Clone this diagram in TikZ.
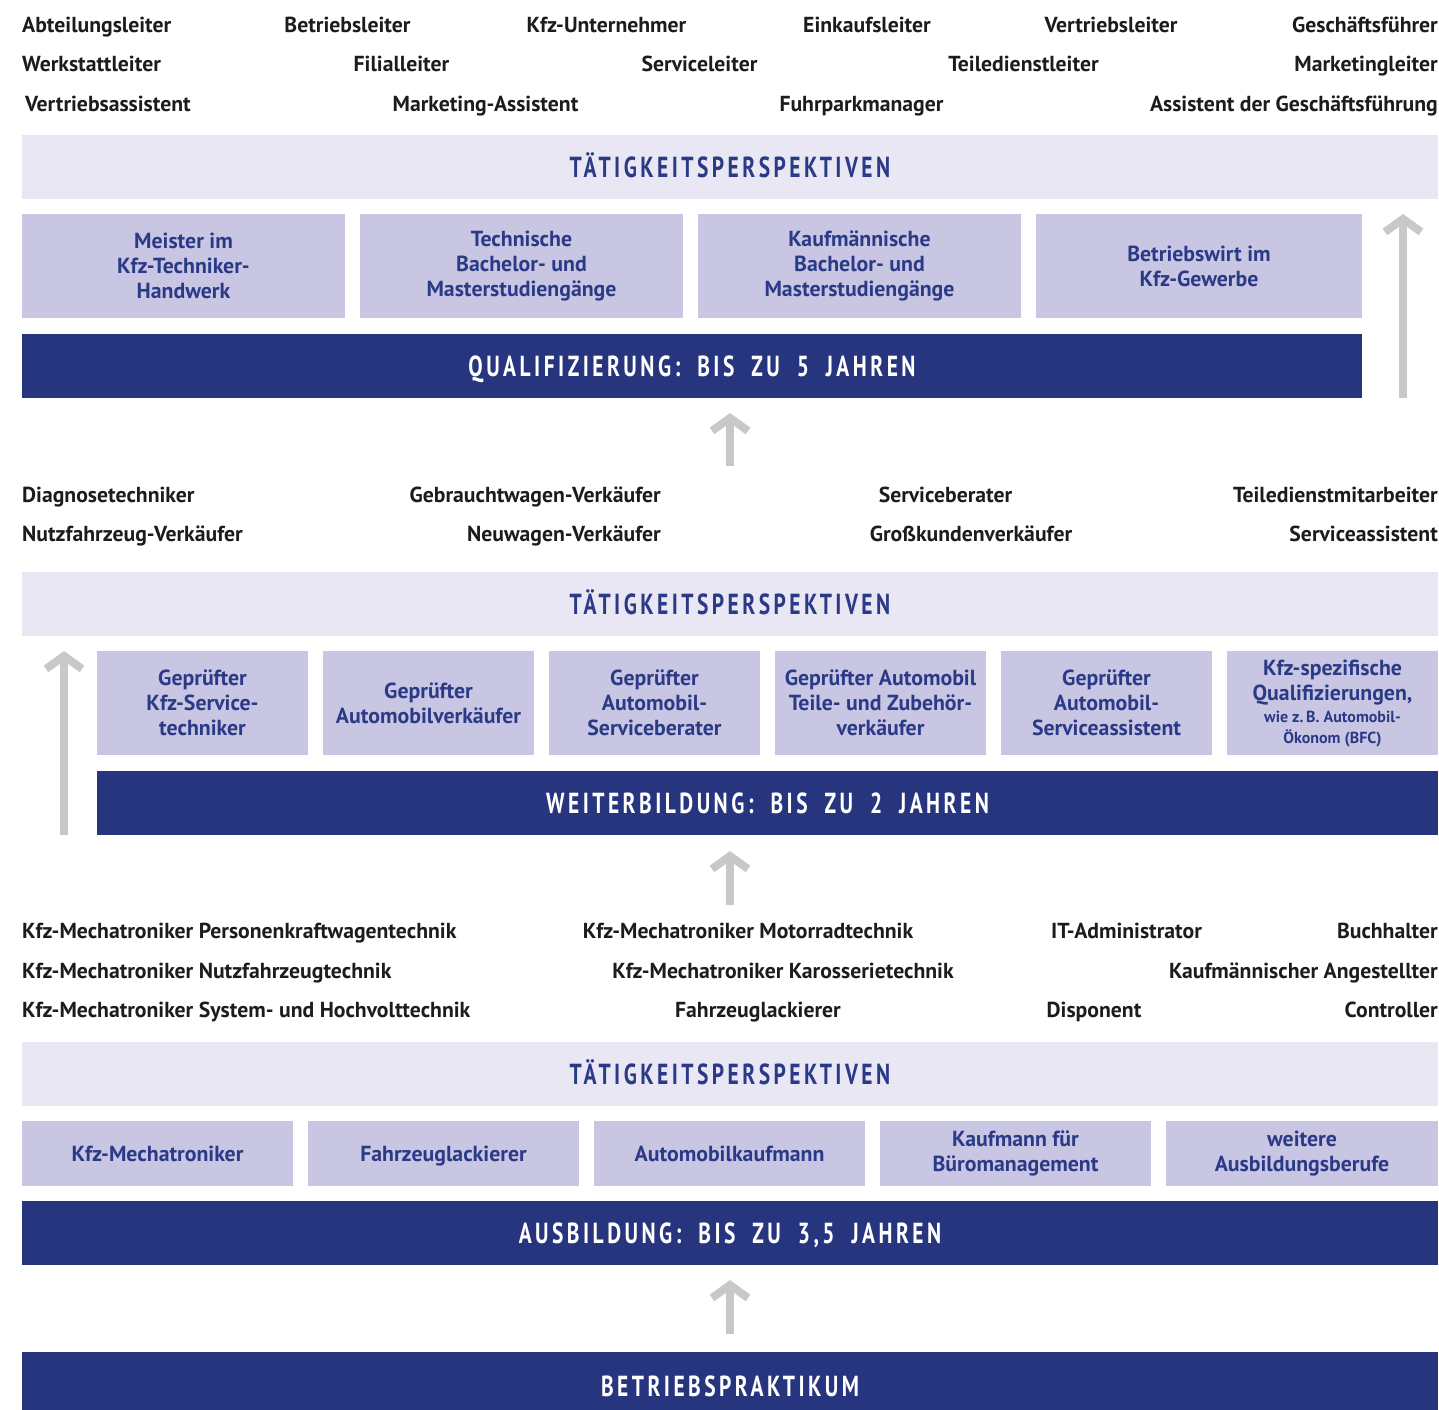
\documentclass[tikz,border=0pt]{standalone}
\usepackage{fontspec}
\setmainfont{PT Sans}
\newfontfamily\titlefont[FakeStretch=0.74,LetterSpace=12,WordSpace=1.9]{PT Sans}
\usetikzlibrary{arrows.meta}
\definecolor{navy}{RGB}{39,53,127}
\definecolor{lbox}{RGB}{200,198,226}
\definecolor{lband}{RGB}{232,231,243}
\definecolor{tnavy}{RGB}{43,58,135}
\definecolor{agray}{RGB}{200,200,200}
\definecolor{ltext}{RGB}{28,28,28}
\tikzset{
  lab/.style={inner sep=0pt, font=\fontsize{21.7}{25}\selectfont\bfseries, text=ltext},
  labw/.style={lab, anchor=base west},
  labe/.style={lab, anchor=base east},
  labc/.style={lab, anchor=base},
  band/.style={fill=lband, inner sep=0pt, minimum width=1416pt, minimum height=64pt, text height=21pt, text depth=0pt, text=tnavy, font=\titlefont\fontsize{29}{30}\selectfont\bfseries},
  bar/.style={fill=navy, inner sep=0pt, minimum height=64pt, text height=21pt, text depth=0pt, text=white, font=\titlefont\fontsize{29}{30}\selectfont\bfseries},
  qbox/.style={fill=lbox, inner sep=0pt, align=center, text=tnavy, font=\fontsize{21.8}{25}\selectfont\bfseries},
  qboxa/.style={qbox, minimum width=323pt, minimum height=104pt},
  qboxb/.style={qbox, minimum width=211pt, minimum height=104pt},
  qboxc/.style={qbox, minimum width=271pt, minimum height=65pt},
  single/.style={text height=16pt, text depth=0pt},
  uparrow/.style={draw=agray, line width=8pt, -{Straight Barb[length=13pt, width=36pt, line join=miter]}}
}
\begin{document}
\begin{tikzpicture}[x=1pt,y=-1pt]
\clip (0,0) rectangle (1439,1409);
\fill[white] (0,0) rectangle (1439,1409);

% ---- top labels
\node[labw] (t1) at (22,32) {Abteilungsleiter};
\node[labc] (t2) at (347.5,32) {Betriebsleiter};
\node[labc] (t3) at (606.5,32) {Kfz-Unternehmer};
\node[labc] (t4) at (867,32) {Einkaufsleiter};
\node[labc] (t5) at (1111,32) {Vertriebsleiter};
\node[labe] (t6) at (1438,32) {Geschäftsführer};
\node[labw] (t7) at (22,71) {Werkstattleiter};
\node[labc] (t8) at (401.5,71) {Filialleiter};
\node[labc] (t9) at (699.5,71) {Serviceleiter};
\node[labc] (t10) at (1023.5,71) {Teiledienstleiter};
\node[labe] (t11) at (1438,71) {Marketingleiter};
\node[labw] (t12) at (25,111) {Vertriebsassistent};
\node[labc] (t13) at (485.5,111) {Marketing-Assistent};
\node[labc] (t14) at (861.5,111) {Fuhrparkmanager};
\node[labe] (t15) at (1438,111) {Assistent der Geschäftsführung};

\node[band] (band1) at (730,167) {TÄTIGKEITSPERSPEKTIVEN};
\node[qboxa] (q1) at (183.5,266) {Meister im\\Kfz-Techniker-\\Handwerk};
\node[qboxa] (q2) at (521.5,266) {Technische\\Bachelor- und\\Masterstudiengänge};
\node[qboxa] (q3) at (859.5,266) {Kaufmännische\\Bachelor- und\\Masterstudiengänge};
\node[qboxa, minimum width=326pt] (q4) at (1199,266) {Betriebswirt im\\Kfz-Gewerbe};
\node[bar, minimum width=1340pt] (qual) at (692,366) {QUALIFIZIERUNG: BIS ZU 5 JAHREN};

\coordinate (r1) at (1403,398);
\coordinate (r2) at (1403,214);
\draw[uparrow] (r1) -- (r2);
\coordinate (m1a) at (730,466);
\coordinate (m1b) at (730,413);
\draw[uparrow] (m1a) -- (m1b);

% ---- middle labels
\node[labw] (s1) at (22,502) {Diagnosetechniker};
\node[labe] (s2) at (661,502) {Gebrauchtwagen-Verkäufer};
\node[labc] (s3) at (945.5,502) {Serviceberater};
\node[labe] (s4) at (1438,502) {Teiledienstmitarbeiter};
\node[labw] (s5) at (22,541) {Nutzfahrzeug-Verkäufer};
\node[labe] (s6) at (661,541) {Neuwagen-Verkäufer};
\node[labc] (s7) at (971,541) {Großkundenverkäufer};
\node[labe] (s8) at (1438,541) {Serviceassistent};

\node[band] (band2) at (730,604) {TÄTIGKEITSPERSPEKTIVEN};
\node[qboxb] (w1) at (202.5,703) {Geprüfter\\Kfz-Service-\\techniker};
\node[qboxb] (w2) at (428.5,703) {Geprüfter\\Automobilverkäufer};
\node[qboxb] (w3) at (654.5,703) {Geprüfter\\Automobil-\\Serviceberater};
\node[qboxb] (w4) at (880.5,703) {Geprüfter Automobil\\Teile- und Zubehör-\\verkäufer};
\node[qboxb] (w5) at (1106.5,703) {Geprüfter\\Automobil-\\Serviceassistent};
\node[qboxb] (w6) at (1332.5,703) {Kfz-spezifische\\Qualifizierungen,\\[-3pt]{\fontsize{16}{20}\selectfont wie z.\,B. Automobil-}\\[-4pt]{\fontsize{16}{20}\selectfont Ökonom (BFC)}};
\node[bar, minimum width=1341pt] (weiter) at (767.5,803) {WEITERBILDUNG: BIS ZU 2 JAHREN};

\coordinate (l1) at (64,835);
\coordinate (l2) at (64,651);
\draw[uparrow] (l1) -- (l2);
\coordinate (m2a) at (730,905);
\coordinate (m2b) at (730,851);
\draw[uparrow] (m2a) -- (m2b);

% ---- bottom labels
\node[labw] (u1) at (22,938) {Kfz-Mechatroniker Personenkraftwagentechnik};
\node[labc] (u2) at (748,938) {Kfz-Mechatroniker Motorradtechnik};
\node[labc] (u3) at (1126.5,938) {IT-Administrator};
\node[labe] (u4) at (1438,938) {Buchhalter};
\node[labw] (u5) at (22,978) {Kfz-Mechatroniker Nutzfahrzeugtechnik};
\node[labc] (u6) at (783,978) {Kfz-Mechatroniker Karosserietechnik};
\node[labe] (u7) at (1438,978) {Kaufmännischer Angestellter};
\node[labw] (u8) at (22,1017) {Kfz-Mechatroniker System- und Hochvolttechnik};
\node[labc] (u9) at (758,1017) {Fahrzeuglackierer};
\node[labc] (u10) at (1094,1017) {Disponent};
\node[labe] (u11) at (1438,1017) {Controller};

\node[band] (band3) at (730,1074) {TÄTIGKEITSPERSPEKTIVEN};
\node[qboxc, single] (a1) at (157.5,1153.5) {Kfz-Mechatroniker};
\node[qboxc, single] (a2) at (443.5,1153.5) {Fahrzeuglackierer};
\node[qboxc, single] (a3) at (729.5,1153.5) {Automobilkaufmann};
\node[qboxc] (a4) at (1015.5,1153.5) {Kaufmann für\\Büromanagement};
\node[qboxc, minimum width=272pt] (a5) at (1302,1153.5) {weitere\\Ausbildungsberufe};
\node[bar, minimum width=1416pt] (ausb) at (730,1233) {AUSBILDUNG: BIS ZU 3,5 JAHREN};

\coordinate (m3a) at (730,1334);
\coordinate (m3b) at (730,1280);
\draw[uparrow] (m3a) -- (m3b);

\node[bar, minimum width=1416pt, anchor=north] (prakt) at (730,1352) {};
\node[inner sep=0pt, text height=21pt, text depth=0pt, text=white, font=\titlefont\fontsize{29}{30}\selectfont\bfseries] (praktt) at (730,1386) {BETRIEBSPRAKTIKUM};
\end{tikzpicture}
\end{document}
